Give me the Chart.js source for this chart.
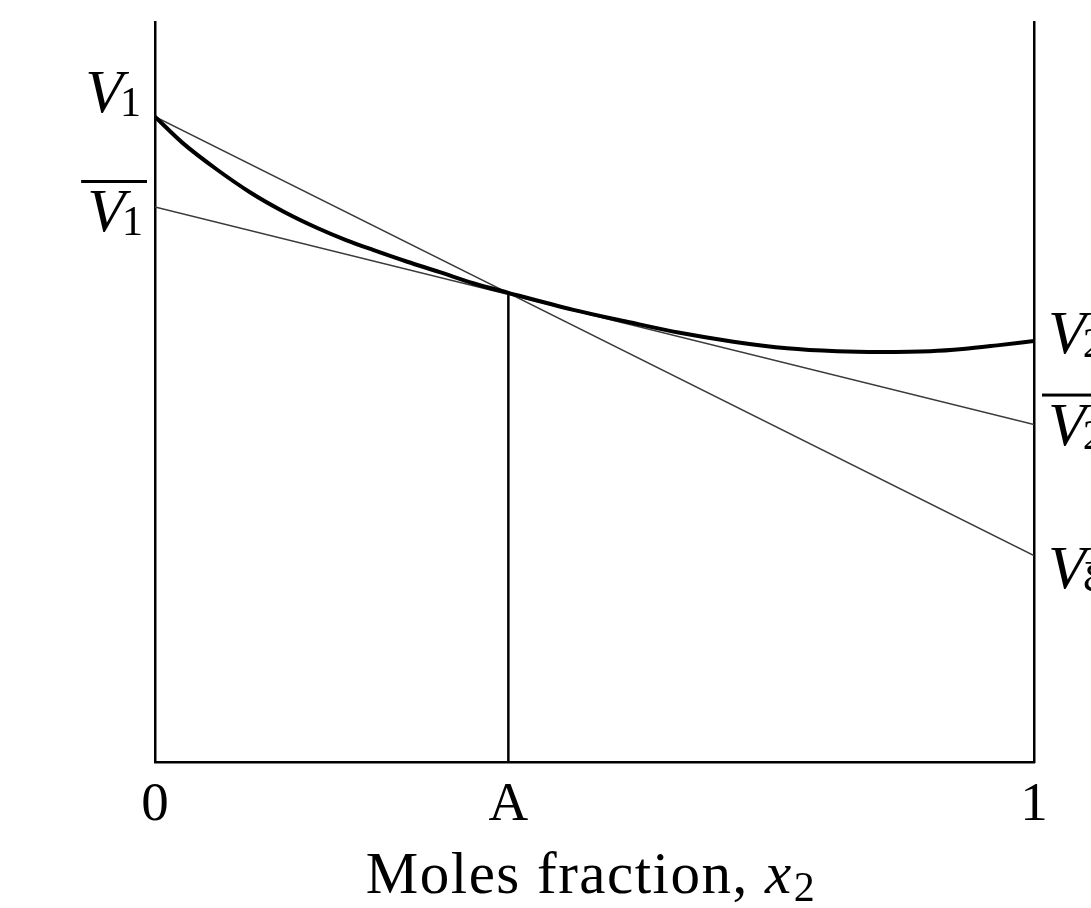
<!DOCTYPE html>
<html>
<head>
<meta charset="utf-8">
<script src="https://cdn.jsdelivr.net/npm/chart.js@4/dist/chart.umd.min.js"></script>
<style>
  body { margin: 0; background: #ffffff; }
  canvas { display: block; }
</style>
</head>
<body>
<canvas id="molarChart" width="1091" height="908"></canvas>
<script>
// ---- Data ----
const xTicks = [0, 0.402, 1];
const xTickLabels = ['0', 'A', '1'];

// molar volume curve (thick line)
const curveX = [0, 0.032, 0.07, 0.108, 0.146, 0.184, 0.218, 0.248, 0.287, 0.324, 0.362, 0.402,
  0.476, 0.537, 0.597, 0.658, 0.719, 0.776, 0.825, 0.882, 0.919, 0.958, 1];
const curveY = [0.872, 0.836, 0.801, 0.770, 0.744, 0.722, 0.705, 0.692, 0.676, 0.662, 0.647, 0.634,
  0.611, 0.595, 0.580, 0.568, 0.559, 0.555, 0.554, 0.555, 0.558, 0.563, 0.569];

// straight lines (endpoints at x = 0 and x = 1)
const chordY = [0.872, 0.279];     // V1 -> V through point A
const tangentY = [0.750, 0.456];   // V1bar -> V2bar tangent at A
const dropY = [0, 0.634];          // vertical line at A

const lineColor = '#3a3a3a';
const serif = '"Liberation Serif", "DejaVu Serif", serif';

function pts(xs, ys) {
  return xs.map((x, i) => ({ x: x, y: ys[i] }));
}

// Draws a symbol like V₁ (optional overline) at a given spot
function drawSymbol(ctx, x, baseline, sub, bar, align) {
  ctx.save();
  ctx.fillStyle = '#000';
  ctx.textBaseline = 'alphabetic';
  ctx.font = 'italic 62px ' + serif;
  const wV = ctx.measureText('V').width;
  ctx.font = '42px ' + serif;
  const wS = ctx.measureText(sub).width;
  const gap = -3;
  const total = wV + gap + wS;
  const left = align === 'right' ? x - total : x;
  ctx.font = 'italic 62px ' + serif;
  ctx.fillText('V', left, baseline);
  ctx.font = '42px ' + serif;
  ctx.fillText(sub, left + wV + gap, baseline + 4);
  if (bar) {
    ctx.fillRect(left - 6, baseline - 51, total + 10, 3);
  }
  ctx.restore();
}

const labelPlugin = {
  id: 'symbolLabels',
  afterDraw(chart) {
    const ctx = chart.ctx;
    const xs = chart.scales.x;
    const ys = chart.scales.y;
    const leftX = xs.getPixelForValue(0);
    const rightX = xs.getPixelForValue(1);

    drawSymbol(ctx, leftX - 14, ys.getPixelForValue(chordY[0]) - 5, '1', false, 'right');
    drawSymbol(ctx, leftX - 12, ys.getPixelForValue(tangentY[0]) + 24, '1', true, 'right');
    drawSymbol(ctx, rightX + 14, ys.getPixelForValue(curveY[curveY.length - 1]) + 12, '2', false, 'left');
    drawSymbol(ctx, rightX + 14, ys.getPixelForValue(tangentY[1]) + 20, '2', true, 'left');
    drawSymbol(ctx, rightX + 14, ys.getPixelForValue(chordY[1]) + 32, 'ξ', false, 'left');

    // axis title with italic x and subscript
    ctx.save();
    ctx.fillStyle = '#000';
    ctx.textBaseline = 'alphabetic';
    ctx.letterSpacing = '1.5px';
    const main = 'Moles fraction, ';
    ctx.font = '59px ' + serif;
    const w1 = ctx.measureText(main).width;
    ctx.font = 'italic 59px ' + serif;
    const w2 = ctx.measureText('x').width;
    ctx.font = '42px ' + serif;
    const w3 = ctx.measureText('2').width;
    const cx = (xs.left + xs.right) / 2 - 4;
    const start = cx - (w1 + w2 + w3) / 2;
    const base = 893;
    ctx.font = '59px ' + serif;
    ctx.fillText(main, start, base);
    ctx.font = 'italic 59px ' + serif;
    ctx.fillText('x', start + w1, base);
    ctx.font = '42px ' + serif;
    ctx.fillText('2', start + w1 + w2 + 1, base + 8);
    ctx.restore();
  }
};

new Chart(document.getElementById('molarChart').getContext('2d'), {
  type: 'scatter',
  data: {
    datasets: [
      {
        label: 'V',
        data: pts(curveX, curveY),
        showLine: true,
        borderColor: '#000',
        borderWidth: 4,
        pointRadius: 0,
        cubicInterpolationMode: 'monotone',
      },
      {
        label: 'chord',
        data: pts([0, 1], chordY),
        showLine: true,
        borderColor: lineColor,
        borderWidth: 1.6,
        pointRadius: 0,
      },
      {
        label: 'tangent',
        data: pts([0, 1], tangentY),
        showLine: true,
        borderColor: lineColor,
        borderWidth: 1.6,
        pointRadius: 0,
      },
      {
        label: 'A',
        data: pts([xTicks[1], xTicks[1]], dropY),
        showLine: true,
        borderColor: '#000',
        borderWidth: 2.5,
        pointRadius: 0,
      },
    ],
  },
  options: {
    responsive: false,
    animation: false,
    layout: {
      padding: { left: 155, right: 57, top: 22, bottom: 58 },
    },
    plugins: {
      legend: { display: false },
      tooltip: { enabled: false },
    },
    scales: {
      x: {
        type: 'linear',
        min: 0,
        max: 1,
        afterBuildTicks: (axis) => {
          axis.ticks = xTicks.map(v => ({ value: v }));
        },
        grid: { display: false, drawTicks: false },
        border: { display: true, color: '#000', width: 2.5 },
        ticks: {
          autoSkip: false,
          maxRotation: 0,
          padding: 11,
          color: '#000',
          font: { family: serif, size: 55 },
          callback: (value) => xTickLabels[xTicks.indexOf(value)],
        },
      },
      y: {
        min: 0,
        max: 1,
        grid: { display: false, drawTicks: false },
        border: { display: true, color: '#000', width: 2.5 },
        ticks: { display: false },
      },
      y2: {
        position: 'right',
        min: 0,
        max: 1,
        grid: { display: false, drawTicks: false },
        border: { display: true, color: '#000', width: 2.5 },
        ticks: { display: false },
      },
    },
  },
  plugins: [labelPlugin],
});
</script>
</body>
</html>
